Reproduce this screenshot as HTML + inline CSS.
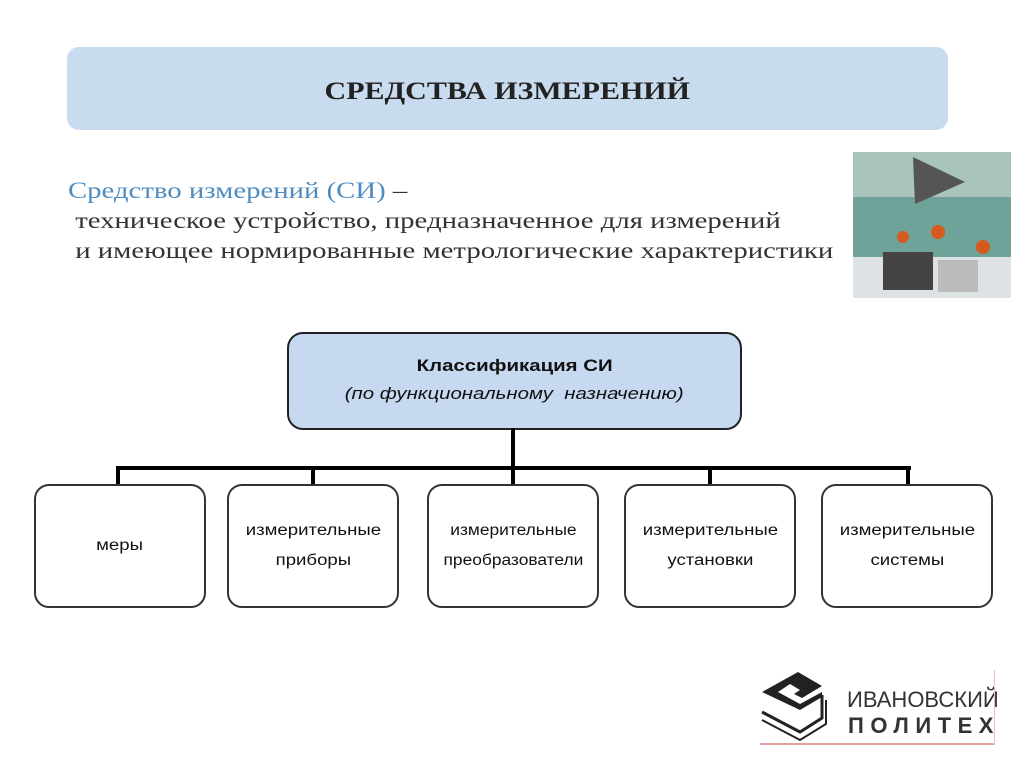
<!DOCTYPE html>
<html><head><meta charset="utf-8"><style>
body{margin:0;width:1024px;height:767px;background:#fff;position:relative;overflow:hidden;font-family:"Liberation Sans",sans-serif}
.a{position:absolute}
.s{display:inline-block;transform:scaleX(1.2);transform-origin:center}
.hdr{left:67px;top:47px;width:881px;height:83px;background:#c9dbee;border-radius:12px;font-family:"Liberation Serif",serif;font-weight:bold;font-size:25px;color:#222;text-align:center;line-height:89px}
.def{left:68px;top:176px;font-family:"Liberation Serif",serif;font-size:23px;color:#333;line-height:30px;white-space:nowrap;transform:scaleX(1.25);transform-origin:left top}
.cls{left:287px;top:332px;width:451px;height:94px;background:#c6d9f1;border:2px solid #222;border-radius:16px;text-align:center;font-size:17px;color:#111}
.bx{top:484px;width:168px;height:120px;border:2px solid #333;border-radius:15px;display:flex;align-items:center;justify-content:center;text-align:center;font-size:15.5px;color:#111;line-height:30px}
.ln{background:#000}
</style></head><body>
<div class="a hdr"><span class="s">СРЕДСТВА ИЗМЕРЕНИЙ</span></div>
<div class="a def"><span style="color:#4f8cbf">Средство измерений (СИ)</span> –<br>&nbsp;техническое устройство, предназначенное для измерений<br>&nbsp;и имеющее нормированные метрологические характеристики</div>
<svg class="a" style="left:853px;top:152px" width="158" height="146">
<rect width="158" height="146" fill="#a9c4bd"/>
<rect y="45" width="158" height="60" fill="#6fa39a"/>
<rect y="105" width="158" height="41" fill="#dde3e4"/>
<polygon points="60,5 112,30 62,52" fill="#555"/>
<rect x="30" y="100" width="50" height="38" fill="#444"/>
<rect x="85" y="108" width="40" height="32" fill="#bbb"/>
<circle cx="50" cy="85" r="6" fill="#d45a20"/><circle cx="85" cy="80" r="7" fill="#d45a20"/><circle cx="130" cy="95" r="7" fill="#d45a20"/>
</svg>
<div class="a cls"><div style="font-weight:bold;margin-top:22px"><span class="s">Классификация СИ</span></div><div style="font-style:italic;margin-top:8px"><span class="s">(по функциональному&nbsp; назначению)</span></div></div>
<div class="a ln" style="left:511px;top:428px;width:4px;height:42px"></div>
<div class="a ln" style="left:116px;top:466px;width:795px;height:4px"></div>
<div class="a ln" style="left:116px;top:466px;width:4px;height:19px"></div>
<div class="a ln" style="left:311px;top:466px;width:4px;height:19px"></div>
<div class="a ln" style="left:511px;top:466px;width:4px;height:19px"></div>
<div class="a ln" style="left:708px;top:466px;width:4px;height:19px"></div>
<div class="a ln" style="left:906px;top:466px;width:4px;height:19px"></div>
<div class="a bx" style="left:34px"><span class="s">меры</span></div>
<div class="a bx" style="left:227px"><span class="s">измерительные<br>приборы</span></div>
<div class="a bx" style="left:427px"><span class="s" style="transform:scaleX(1.12)">измерительные<br>преобразователи</span></div>
<div class="a bx" style="left:624px"><span class="s">измерительные<br>установки</span></div>
<div class="a bx" style="left:821px"><span class="s">измерительные<br>системы</span></div>
<svg class="a" style="left:760px;top:670px" width="80" height="75">
<polygon points="2,22 38,2 62,16 42,28 34,24 40,20 30,14 18,22 40,34 62,22 62,27 40,40 2,22" fill="#222"/>
<polyline points="2,42 40,62 62,48 62,25" fill="none" stroke="#222" stroke-width="3"/>
<polyline points="2,50 40,70 66,54 66,30" fill="none" stroke="#222" stroke-width="2"/>
</svg>
<div class="a" style="left:847px;top:687px;font-size:22px;color:#333">ИВАНОВСКИЙ</div>
<div class="a" style="left:848px;top:713px;font-size:22px;color:#333;letter-spacing:6.5px;font-weight:bold">ПОЛИТЕХ</div>
<div class="a" style="left:760px;top:743px;width:235px;height:2px;background:#e8a0a0"></div>
<div class="a" style="left:994px;top:670px;width:1px;height:75px;background:#f0c0c0"></div>
</body></html>
